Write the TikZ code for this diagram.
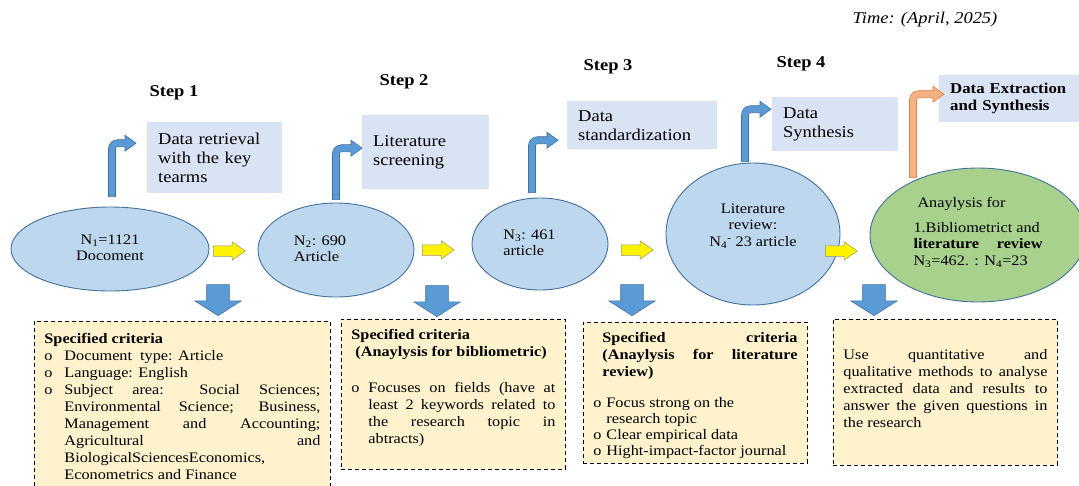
\documentclass[tikz,border=0pt]{standalone}
\usepackage{fontspec}
\setmainfont{Liberation Serif}[FakeStretch=1.12]
\usepackage{tikz}
\usetikzlibrary{shapes.geometric, shapes.arrows, calc}
\definecolor{stepblue}{RGB}{218,227,243}
\definecolor{ellblue}{RGB}{189,215,238}
\definecolor{edgeblue}{RGB}{65,113,156}
\definecolor{arrblue}{RGB}{91,155,213}
\definecolor{lgreen}{RGB}{169,209,142}
\definecolor{lorange}{RGB}{244,177,131}
\definecolor{dorange}{RGB}{222,130,70}
\definecolor{cream}{RGB}{255,242,204}
\definecolor{yedge}{RGB}{150,150,110}

\newenvironment{crit}[1]{\begin{list}{o}{\setlength{\leftmargin}{#1}\setlength{\labelwidth}{#1}%
  \setlength{\labelsep}{0pt}\setlength{\itemsep}{0pt}\setlength{\parsep}{0pt}%
  \setlength{\topsep}{0pt}\setlength{\partopsep}{0pt}\renewcommand{\makelabel}[1]{##1\hfil}}}{\end{list}}

\newcommand{\bentarrow}[3]{%
  \draw[#3] let \p1=#1, \p2=#2 in
    (\x1-3.5pt,\y1) -- (\x1-3.5pt,\y2-5.5pt)
    arc[start angle=180, end angle=90, radius=9pt]
    -- (\x2-11pt,\y2+3.5pt) -- (\x2-11pt,\y2+8pt) -- (\x2,\y2)
    -- (\x2-11pt,\y2-8pt) -- (\x2-11pt,\y2-3.5pt) -- (\x1+5.5pt,\y2-3.5pt)
    arc[start angle=90, end angle=180, radius=2pt] -- (\x1+3.5pt,\y1) -- cycle;}

\tikzset{
  stamp/.style={font=\fontsize{16.5}{19}\selectfont\itshape},
  steplabel/.style={font=\fontsize{16.5}{19}\selectfont\bfseries},
  stepbox/.style={fill=stepblue, anchor=north west, align=left, inner xsep=11pt, font=\fontsize{16.5}{19}\selectfont},
  stage/.style={ellipse, draw=edgeblue, fill=ellblue, line width=0.9pt, inner sep=0pt, font=\fontsize{14.5}{16.5}\selectfont},
  bluearrow/.style={fill=arrblue, draw=edgeblue, line width=0.6pt},
  extarrow/.style={fill=lorange, draw=dorange, line width=0.6pt},
  moveon/.style={single arrow, anchor=tail, draw=yedge, fill=yellow, line width=0.5pt, inner xsep=0pt, inner ysep=5pt,
    minimum height=32pt, single arrow head extend=4pt, single arrow tip angle=70},
  drop/.style={single arrow, rotate=-90, anchor=tip, fill=arrblue, draw=edgeblue, line width=0.6pt, inner xsep=0pt, inner ysep=11pt,
    minimum height=31pt, single arrow head extend=12pt, single arrow tip angle=115},
  critbox/.style={draw, dash pattern=on 4pt off 3pt, fill=cream, line width=0.9pt, anchor=north west,
    inner xsep=10pt, inner ysep=10pt, font=\fontsize{14.5}{17}\selectfont}
}

\begin{document}
\begin{tikzpicture}[x=1pt,y=-1pt]
  \useasboundingbox (0,0) rectangle (1079,485);

  \node [stamp] (tm) at (925,20) {Time: (April, 2025)};
  \node [steplabel] (s1) at (174,93) {Step 1};
  \node [steplabel] (s2) at (404,82) {Step 2};
  \node [steplabel] (s3) at (608,67) {Step 3};
  \node [steplabel] (s4) at (801,64) {Step 4};

  \node [stepbox, text width=113pt, minimum height=71pt] (b1) at (147,122) {Data retrieval\\with the key\\tearms};
  \node [stepbox, text width=105pt, minimum height=74pt] (b2) at (362,115) {Literature\\screening};
  \node [stepbox, text width=128pt, minimum height=48pt] (b3) at (567,101) {Data\\standardization};
  \node [stepbox, text width=104pt, minimum height=54pt] (b4) at (772,97) {Data\\Synthesis};
  \node [stepbox, text width=130pt, minimum height=47pt, font=\fontsize{15}{17}\selectfont\bfseries] (b5) at (939,75)
    {Data Extraction\\and Synthesis};

  \node [stage, minimum width=198pt, minimum height=84pt] (e1) at (110,249)
    {{\begin{tabular}{c} N\textsubscript{1}=1121\\ Docoment \end{tabular}}};
  \node [stage, minimum width=156pt, minimum height=94pt] (e2) at (336,250)
    {{\begin{tabular}{@{}l@{\hspace{32pt}}} N\textsubscript{2}: 690\\ Article \end{tabular}}};
  \node [stage, minimum width=136pt, minimum height=92pt] (e3) at (540,244)
    {{\begin{tabular}{@{}l@{\hspace{21pt}}} N\textsubscript{3}: 461\\ article \end{tabular}}};
  \node [stage, minimum width=174pt, minimum height=142pt] (e4) at (753,234)
    {{\begin{tabular}{c} Literature\\ review:\\ N\textsubscript{4}\textsuperscript{-}\ 23 article\\[15pt] \end{tabular}}};
  \node [stage, fill=lgreen, minimum width=216pt, minimum height=134pt] (e5) at (978,235)
    {{\begin{tabular}{@{}p{129pt}@{}}
      \hspace*{4pt}Anaylysis for\\[8pt]
      1.Bibliometrict and\\
      \textbf{literature}\hfill\textbf{review}\\
      N\textsubscript{3}=462. : N\textsubscript{4}=23\\[4pt]
    \end{tabular}}};

  \bentarrow{($(e1.north)+(2,-10)$)}{($(b1.west)+(-11,-14.5)$)}{bluearrow}
  \bentarrow{($(e2.north)+(0,-3)$)}{($(b2.west)+(0,-4)$)}{bluearrow}
  \bentarrow{($(e3.north)+(-8,-5)$)}{($(b3.west)+(-9,15)$)}{bluearrow}
  \bentarrow{($(e4.north)+(-8,-1)$)}{($(b4.west)+(-1,-15)$)}{bluearrow}
  \bentarrow{($(e5.north)+(-65,10)$)}{($(b5.west)+(5,-4.5)$)}{extarrow}

  \node [moveon] (y1) at (213,251) {};
  \node [moveon] (y2) at (422,250) {};
  \node [moveon] (y3) at (621,250) {};
  \node [moveon] (y4) at (825,251) {};

  \node [drop] (p1) at (218,316) {};
  \node [drop] (p2) at (437,317) {};
  \node [drop] (p3) at (632,316) {};
  \node [drop] (p4) at (874,316) {};

  \node [critbox] (c1) at (34,321) {\parbox[t][151pt][t]{276pt}{\vspace*{2pt}\textbf{Specified criteria}
    \begin{crit}{20pt}
      \item Document\ \ type: Article
      \item Language: English
      \item Subject area: Social Sciences;\linebreak Environmental Science; Business,\linebreak
        Management and Accounting;\linebreak Agricultural and\linebreak
        BiologicalSciencesEconomics,\newline Econometrics and Finance
    \end{crit}}};
  \node [critbox] (c2) at (341,319) {\parbox[t][130pt][t]{204pt}{\bfseries Specified criteria\\
    \hspace*{4pt}(Anaylysis for bibliometric)\par\vspace{19pt}\mdseries
    \begin{crit}{17pt}
      \item Focuses on fields (have at\linebreak least 2 keywords related to\linebreak
        the research topic in\linebreak abtracts)
    \end{crit}}};
  \node [critbox] (c3) at (583,322) {\parbox[t][121pt][t]{204pt}{{\leftskip=9pt\bfseries Specified criteria\linebreak
    (Anaylysis for literature\linebreak review)\par}\vspace{15pt}
    \fontsize{14.5}{16}\selectfont
    \begin{crit}{13pt}
      \item Focus strong on the\newline research topic
      \item Clear empirical data
      \item Hight-impact-factor journal
    \end{crit}}};
  \node [critbox] (c4) at (833,319) {\parbox[t][126pt][t]{204pt}{\vspace*{20pt}
    Use quantitative and\linebreak qualitative methods to analyse\linebreak
    extracted data and results to\linebreak answer the given questions in\linebreak the research}};
\end{tikzpicture}
\end{document}
